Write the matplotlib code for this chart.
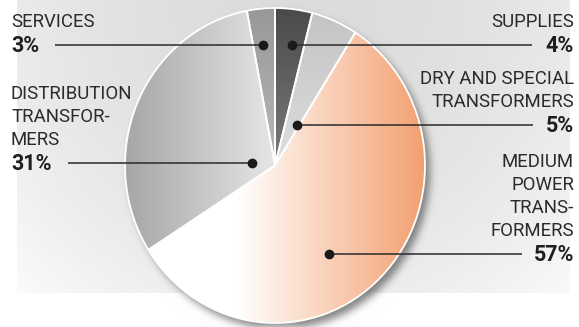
import numpy as np
import matplotlib.pyplot as plt
from matplotlib.colors import to_rgb

plt.rcParams['font.family'] = ['Roboto', 'DejaVu Sans']

# share of sales per product group, clockwise from 12 o'clock
label_lines = [['SUPPLIES'],
               ['DRY AND SPECIAL', 'TRANSFORMERS'],
               ['MEDIUM', 'POWER', 'TRANS-', 'FORMERS'],
               ['DISTRIBUTION', 'TRANSFOR-', 'MERS'],
               ['SERVICES']]
shares = [4, 5, 57, 31, 3]

# label layout in pixels: side, text x, leader y, dot x, leader end x
label_pos = [('right', 574, 45, 292, 532),
             ('right', 574, 125, 297, 533),
             ('right', 574, 254, 329, 522),
             ('left', 11, 163, 252, 68),
             ('left', 11, 45, 263, 55)]

# slice fills: direction, start colour, end colour, ramp start, ramp end
fills = [('v', '#4a4a4a', '#7c7c7c', 1.0, 0.0),
         ('v', '#c3c3c3', '#dedede', 1.0, 0.0),
         ('h', '#ffffff', '#f3a070', -0.25, 1.0),
         ('h', '#a6a6a6', '#e3e3e3', -1.0, -0.05),
         ('v', '#989898', '#b8b8b8', 1.0, 0.0)]

W, H = 579, 327
cx, cy, rx, ry = 275, 165.5, 150, 157.5

fig = plt.figure(figsize=(W / 100, H / 100), dpi=100)


def pixel_axes(z):
    a = fig.add_axes([0, 0, 1, 1], zorder=z)
    a.set_xlim(0, W)
    a.set_ylim(H, 0)
    a.axis('off')
    a.patch.set_alpha(0)
    return a


def blur(img, sigma):
    k = np.arange(-3 * sigma, 3 * sigma + 1)
    k = np.exp(-k ** 2 / (2 * sigma ** 2))
    k /= k.sum()
    img = np.apply_along_axis(lambda r: np.convolve(r, k, mode='same'), 1, img)
    return np.apply_along_axis(lambda c: np.convolve(c, k, mode='same'), 0, img)


# background panel + drop shadow
bg = pixel_axes(0)
yy, xx = np.mgrid[0:H, 0:W] + 0.5
panel = 220 + 30 * np.clip(np.hypot(xx - 300, yy) / 400, 0, 1) ** 2
inside = (xx > 17) & (xx < 570) & (yy < 293)
gray = np.where(inside, panel, 255.0)
mask = (((xx - cx - 5) / rx) ** 2 + ((yy - cy - 6) / ry) ** 2 <= 1).astype(float)
shade = 0.65 * blur(mask, 4)
gray = gray * (1 - shade) + 70 * shade
bg.imshow(np.dstack([gray / 255] * 3), extent=[0, W, H, 0], aspect='auto',
          interpolation='bilinear')

# pie
axp = fig.add_axes([(cx - rx) / W, (H - cy - ry) / H, 2 * rx / W, 2 * ry / H], zorder=1)
wedges, _ = axp.pie(shares, startangle=90, counterclock=False, radius=1,
                    wedgeprops=dict(edgecolor='white', linewidth=1.3))
axp.set_aspect('auto')
axp.set_xlim(-1, 1)
axp.set_ylim(-1, 1)
axp.axis('off')

gy, gx = np.mgrid[1:-1:400j, -1:1:400j]
for w, (d, c0, c1, a, b) in zip(wedges, fills):
    g = gx if d == 'h' else gy
    t = np.clip((g - a) / (b - a), 0, 1)[..., None]
    rgb = (1 - t) * np.array(to_rgb(c0)) + t * np.array(to_rgb(c1))
    im = axp.imshow(rgb, extent=[-1, 1, -1, 1], aspect='auto', zorder=1,
                    interpolation='bilinear')
    im.set_clip_path(w)
    w.set_facecolor('none')
    w.set_zorder(2)

# leaders and labels
top = pixel_axes(2)
for lines, v, (side, tx, ly, dx, ex) in zip(label_lines, shares, label_pos):
    top.plot([ex, dx], [ly, ly], color='#2a2a2a', lw=1.1, solid_capstyle='butt')
    top.plot(dx, ly, 'o', color='#1a1a1a', ms=6)
    base = ly + 7
    top.text(tx, base, f'{v}%', ha=side, va='baseline', fontsize=15.5,
             fontweight='bold', color='#1e1e1e')
    for i, s in enumerate(reversed(lines)):
        top.text(tx, base - 25 - 23 * i, s, ha=side, va='baseline',
                 fontsize=13.4, color='#2b2b2b')

fig.savefig('out.png', dpi=100)
